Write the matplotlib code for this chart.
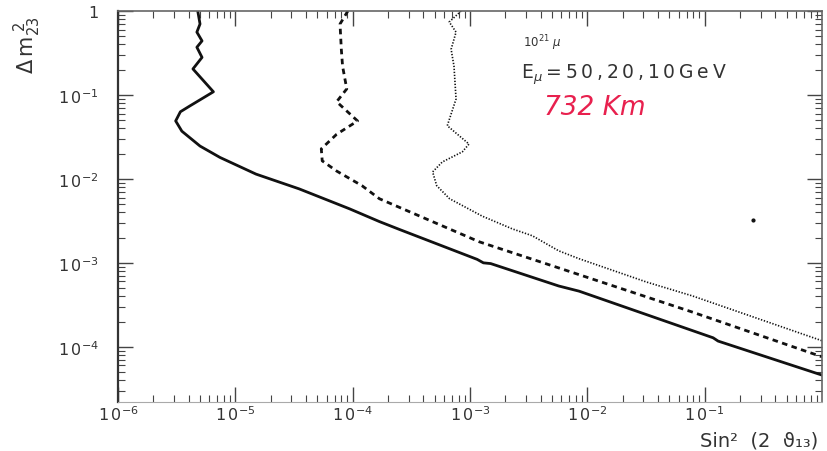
import matplotlib.pyplot as plt

# 50 GeV (solid)
x50 = [4.8e-6, 5.0e-6, 4.7e-6, 5.2e-6, 4.7e-6, 5.2e-6, 4.35e-6, 6.5e-6, 4.1e-6, 3.4e-6,
       3.1e-6, 3.5e-6, 5.0e-6, 7.4e-6, 1.5e-5, 3.5e-5, 9.4e-5, 1.69e-4, 2.5e-4, 1.15e-3,
       1.3e-3, 1.5e-3, 5.7e-3, 8.5e-3, 0.118, 0.13, 1.0]
y50 = [0.97, 0.70, 0.56, 0.44, 0.37, 0.28, 0.204, 0.109, 0.074, 0.063,
       0.049, 0.037, 0.0246, 0.018, 0.0114, 0.0076, 0.0044, 0.0031, 0.0025, 1.1e-3,
       1.0e-3, 9.8e-4, 5.3e-4, 4.6e-4, 1.28e-4, 1.17e-4, 4.6e-5]

# 20 GeV (dashed)
x20 = [9.1e-5, 7.8e-5, 8.0e-5, 8.2e-5, 8.9e-5, 7.3e-5, 1.1e-4, 7.3e-5, 5.4e-5, 5.5e-5,
       7.3e-5, 1.2e-4, 1.69e-4, 1.2e-3, 5.7e-3, 0.078, 1.0]
y20 = [1.0, 0.70, 0.35, 0.22, 0.118, 0.083, 0.049, 0.034, 0.0228, 0.0164,
       0.0124, 0.0083, 0.0058, 1.78e-3, 8.7e-4, 2.6e-4, 7.6e-5]

# 10 GeV (dotted)
x10 = [8.4e-4, 6.65e-4, 7.6e-4, 6.9e-4, 7.3e-4, 7.6e-4, 6.4e-4, 9.8e-4, 8.6e-4, 5.8e-4,
       4.8e-4, 5.2e-4, 6.7e-4, 1.27e-3, 2.29e-3, 3.4e-3, 5.7e-3, 8.5e-3, 0.032, 0.078, 1.0]
y10 = [1.0, 0.74, 0.56, 0.35, 0.22, 0.0895, 0.043, 0.026, 0.021, 0.0159,
       0.0121, 0.0083, 0.0058, 0.0036, 2.54e-3, 2.1e-3, 1.39e-3, 1.12e-3, 5.9e-4, 4.05e-4, 1.18e-4]

xticks = [1e-6, 1e-5, 1e-4, 1e-3, 1e-2, 1e-1]
xlabels = [r'$1\,0^{-6}$', r'$1\,0^{-5}$', r'$1\,0^{-4}$', r'$1\,0^{-3}$', r'$1\,0^{-2}$', r'$1\,0^{-1}$']
yticks = [1e-4, 1e-3, 1e-2, 1e-1, 1]
ylabels = [r'$1\,0^{-4}$', r'$1\,0^{-3}$', r'$1\,0^{-2}$', r'$1\,0^{-1}$', '1']

plt.rcParams['mathtext.fontset'] = 'dejavusans'
fig = plt.figure(figsize=(8.27, 4.52), dpi=100)
ax = fig.add_axes([0.1427, 0.1084, 0.8513, 0.8651])

ink = '#111111'
ax.plot(x50, y50, color=ink, lw=2.0, solid_joinstyle='round')
ax.plot(x20, y20, color=ink, lw=2.0, linestyle=(0, (2, 1.6)))
ax.plot(x10, y10, color=ink, lw=1.2, linestyle=(0, (0.8, 1.0)))
ax.plot([0.26], [3.2e-3], 'o', color=ink, ms=2)

ax.set_xscale('log')
ax.set_yscale('log')
ax.set_xlim(1e-6, 1)
ax.set_ylim(2.2e-5, 1)

ax.set_xticks(xticks)
ax.set_xticklabels(xlabels)
ax.set_yticks(yticks)
ax.set_yticklabels(ylabels)
ax.tick_params(which='both', direction='in', top=True, right=True, colors='#444444',
               labelcolor='#333333', labelsize=11.5)
ax.tick_params(which='major', length=11, width=1)
ax.tick_params(which='minor', length=5, width=0.8)
ax.tick_params(axis='x', pad=2)
ax.tick_params(axis='y', pad=14)

for s in ['top', 'right']:
    ax.spines[s].set_color('#666666')
    ax.spines[s].set_linewidth(1.2)
ax.spines['left'].set_color('#333333')
ax.spines['left'].set_linewidth(1.6)
ax.spines['bottom'].set_color('#aaaaaa')
ax.spines['bottom'].set_linewidth(0.8)

th = '\u2009'
ax.text(0.575, 0.91, r'$10^{21}\ \mu$', transform=ax.transAxes, fontsize=8.5, color='#333333')
ax.text(0.573, 0.84, 'E$_\\mu$' + th + th.join('=50,20,10GeV'), transform=ax.transAxes,
        fontsize=13.5, color='#333333', va='center')
ax.text(0.605, 0.755, '732 Km', transform=ax.transAxes, fontsize=19, color='#e8204e',
        fontstyle='italic', va='center')

fig.text(0.033, 0.9, r'$\Delta\,$m$_{23}^{\ 2}$', rotation=90, fontsize=15,
         color='#333333', ha='center', va='center')
fig.text(0.99, 0.012, 'Sin\u00b2  (2  \u03d1\u2081\u2083)', fontsize=14, color='#333333',
         ha='right', va='baseline')

fig.savefig('out.png', dpi=100)
